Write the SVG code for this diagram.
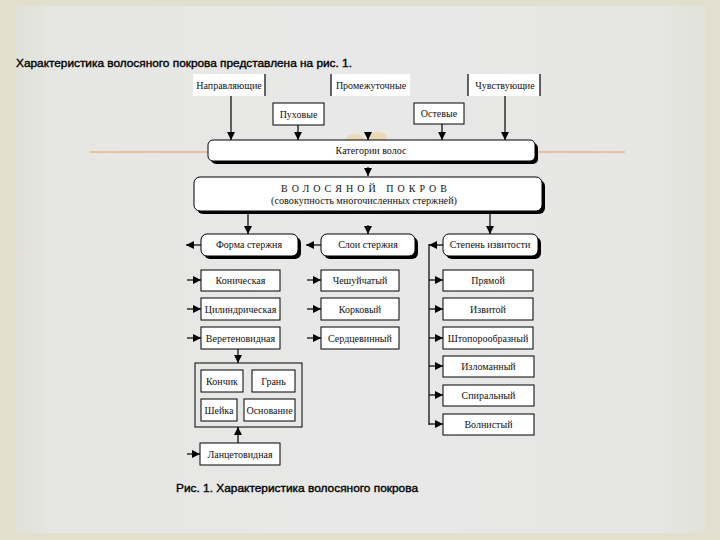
<svg xmlns="http://www.w3.org/2000/svg" width="720" height="540" viewBox="0 0 720 540">
<defs>
<linearGradient id="bg" x1="0" y1="0" x2="1" y2="0">
<stop offset="0" stop-color="#e1e1d9"/>
<stop offset="0.06" stop-color="#e6e6e3"/>
<stop offset="0.5" stop-color="#e8e8e8"/>
<stop offset="0.93" stop-color="#e6e6e4"/>
<stop offset="1" stop-color="#e1e2d8"/>
</linearGradient>
<marker id="ah" markerUnits="userSpaceOnUse" markerWidth="8" markerHeight="8" refX="8" refY="4" orient="auto">
<path d="M0,0 L8,4 L0,8 z" fill="#000"/>
</marker>
<style>
.t{font-family:"Liberation Serif","Times New Roman",serif;font-size:10px;fill:#111;text-anchor:middle}
.s{font-family:"Liberation Sans",Arial,sans-serif;font-size:11px;fill:#000;stroke:#000;stroke-width:0.35}
.b{fill:#fff;stroke:#000;stroke-width:1}
.sh{fill:#000}
.c line,.c path{stroke:#000;stroke-width:1.2;fill:none}
.a{marker-end:url(#ah)}
.e{stroke:#000;stroke-width:1.2}
</style>
</defs>
<rect x="0" y="0" width="720" height="540" fill="#e2dfcf"/>
<rect x="15" y="6" width="690" height="527" fill="url(#bg)"/>
<line x1="90" y1="152" x2="625" y2="152" stroke="#e8b890" stroke-width="2" opacity="0.8"/>
<ellipse cx="355" cy="140" rx="9" ry="6" fill="#f0c880" opacity="0.5"/>
<ellipse cx="378" cy="138" rx="9" ry="6" fill="#f0c880" opacity="0.5"/>

<text class="s" x="16" y="67" textLength="336" lengthAdjust="spacingAndGlyphs">Характеристика волосяного покрова представлена на рис. 1.</text>

<g id="napr">
<rect x="193" y="74" width="72" height="22" fill="#fff"/>
<line class="e" x1="265" y1="74" x2="265" y2="96"/>
<text class="t" x="229" y="89">Направляющие</text>
</g>
<g id="prom">
<rect x="331" y="74" width="79" height="22" fill="#fff"/>
<line class="e" x1="331" y1="74" x2="331" y2="96"/>
<text class="t" x="371" y="89">Промежуточные</text>
</g>
<g id="chuv">
<rect x="468" y="74" width="72" height="22" fill="#fff"/>
<line class="e" x1="468" y1="74" x2="468" y2="96"/>
<line class="e" x1="540" y1="74" x2="540" y2="96"/>
<text class="t" x="505" y="89">Чувствующие</text>
</g>
<g id="puh">
<rect class="b" x="273" y="103" width="51" height="22"/>
<text class="t" x="298.5" y="118">Пуховые</text>
</g>
<g id="ost">
<rect class="b" x="414" y="103" width="50" height="21"/>
<text class="t" x="439" y="117">Остевые</text>
</g>

<g id="kateg">
<rect class="sh" x="211" y="143" width="327" height="21" rx="5"/>
<rect class="b" x="208" y="140" width="327" height="21" rx="5"/>
<text class="t" x="371" y="154">Категории волос</text>
</g>
<g id="pokrov">
<rect class="sh" x="197" y="180" width="348" height="34" rx="6"/>
<rect class="b" x="194" y="177" width="348" height="34" rx="6"/>
<text class="t" x="364" y="192" textLength="166" lengthAdjust="spacing">ВОЛОСЯНОЙ ПОКРОВ</text>
<text class="t" x="364" y="204" textLength="186" lengthAdjust="spacingAndGlyphs">(совокупность многочисленных стержней)</text>
</g>

<g id="forma">
<rect class="sh" x="204" y="237" width="97" height="22" rx="6"/>
<rect class="b" x="201" y="234" width="97" height="22" rx="6"/>
<text class="t" x="249" y="248">Форма стержня</text>
</g>
<g id="sloi">
<rect class="sh" x="324" y="237" width="94" height="22" rx="6"/>
<rect class="b" x="321" y="234" width="94" height="22" rx="6"/>
<text class="t" x="368" y="248">Слои стержня</text>
</g>
<g id="stepen">
<rect class="sh" x="446" y="237" width="95" height="22" rx="6"/>
<rect class="b" x="443" y="234" width="95" height="22" rx="6"/>
<text class="t" x="490" y="248">Степень извитости</text>
</g>

<g id="konich"><rect class="b" x="201" y="270" width="79" height="21"/><text class="t" x="240.5" y="284">Коническая</text></g>
<g id="cilindr"><rect class="b" x="201" y="298" width="79" height="22"/><text class="t" x="240.5" y="312.5">Цилиндрическая</text></g>
<g id="veret"><rect class="b" x="201" y="327" width="79" height="22"/><text class="t" x="240.5" y="341.5">Веретеновидная</text></g>

<g id="cheshu"><rect class="b" x="321" y="270" width="78" height="21"/><text class="t" x="360" y="284">Чешуйчатый</text></g>
<g id="kork"><rect class="b" x="321" y="298" width="78" height="22"/><text class="t" x="360" y="312.5">Корковый</text></g>
<g id="serdc"><rect class="b" x="321" y="327" width="78" height="22"/><text class="t" x="360" y="341.5">Сердцевинный</text></g>

<g id="pryam"><rect class="b" x="443" y="270" width="90" height="21"/><text class="t" x="488" y="284">Прямой</text></g>
<g id="izvit"><rect class="b" x="443" y="298" width="90" height="22"/><text class="t" x="488" y="312.5">Извитой</text></g>
<g id="shtop"><rect class="b" x="443" y="327" width="90" height="22"/><text class="t" x="488" y="341.5">Штопорообразный</text></g>
<g id="izlom"><rect class="b" x="443" y="356" width="91" height="21"/><text class="t" x="488.5" y="370">Изломанный</text></g>
<g id="spir"><rect class="b" x="443" y="385" width="91" height="21"/><text class="t" x="488.5" y="399">Спиральный</text></g>
<g id="voln"><rect class="b" x="443" y="414" width="91" height="21"/><text class="t" x="488.5" y="428">Волнистый</text></g>

<g id="parts">
<rect x="195" y="363" width="107" height="64" fill="none" stroke="#000" stroke-width="1"/>
<rect class="b" x="201" y="370" width="42" height="22"/><text class="t" x="222" y="384.5">Кончик</text>
<rect class="b" x="252" y="370" width="43" height="22"/><text class="t" x="273.5" y="384.5">Грань</text>
<rect class="b" x="201" y="399" width="36" height="22"/><text class="t" x="219" y="413.5">Шейка</text>
<rect class="b" x="244" y="399" width="51" height="22"/><text class="t" x="269.5" y="413.5">Основание</text>
</g>
<g id="lanc"><rect class="b" x="200" y="443" width="80" height="22"/><text class="t" x="240" y="457.5">Ланцетовидная</text></g>

<g class="c" id="connectors">
<line class="a" x1="231" y1="96" x2="231" y2="140"/>
<line class="a" x1="298" y1="125" x2="298" y2="140"/>
<line class="a" x1="368" y1="132" x2="368" y2="140"/>
<line class="a" x1="442" y1="124" x2="442" y2="140"/>
<line class="a" x1="505" y1="96" x2="505" y2="140"/>
<line class="a" x1="368" y1="167" x2="368" y2="176"/>
<line class="a" x1="248" y1="211" x2="248" y2="234"/>
<line class="a" x1="368" y1="225" x2="368" y2="234"/>
<line class="a" x1="490" y1="211" x2="490" y2="234"/>
<line class="a" x1="201" y1="245" x2="186" y2="245"/>
<line class="a" x1="321" y1="245" x2="306" y2="245"/>
<line class="a" x1="443" y1="245" x2="429" y2="245"/>
<line x1="429" y1="244" x2="429" y2="425"/>
<line class="a" x1="187" y1="280" x2="201" y2="280"/>
<line class="a" x1="187" y1="309" x2="201" y2="309"/>
<line class="a" x1="187" y1="338" x2="201" y2="338"/>
<line class="a" x1="187" y1="454" x2="200" y2="454"/>
<line class="a" x1="307" y1="280" x2="321" y2="280"/>
<line class="a" x1="307" y1="309" x2="321" y2="309"/>
<line class="a" x1="307" y1="338" x2="321" y2="338"/>
<line class="a" x1="429" y1="280" x2="443" y2="280"/>
<line class="a" x1="429" y1="309" x2="443" y2="309"/>
<line class="a" x1="429" y1="338" x2="443" y2="338"/>
<line class="a" x1="429" y1="366" x2="443" y2="366"/>
<line class="a" x1="429" y1="395" x2="443" y2="395"/>
<line class="a" x1="429" y1="424" x2="443" y2="424"/>
<line class="a" x1="238" y1="349" x2="238" y2="363"/>
<line class="a" x1="238" y1="443" x2="238" y2="427"/>
</g>

<text class="s" x="176" y="492" textLength="242" lengthAdjust="spacingAndGlyphs">Рис. 1. Характеристика волосяного покрова</text>
</svg>
